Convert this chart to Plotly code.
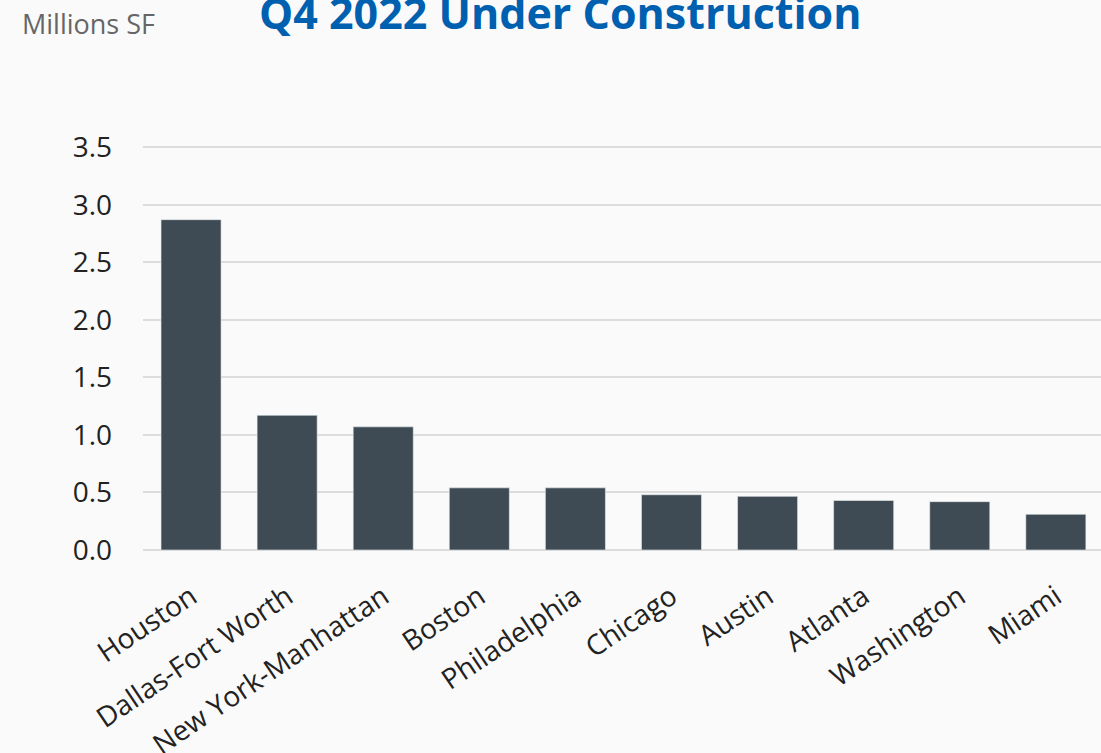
import plotly.graph_objects as go

markets = ["Houston", "Dallas-Fort Worth", "New York-Manhattan", "Boston", "Philadelphia",
           "Chicago", "Austin", "Atlanta", "Washington", "Miami"]
under_construction = [2.87, 1.17, 1.07, 0.54, 0.54, 0.48, 0.466, 0.43, 0.42, 0.31]
y_ticks = [0.0, 0.5, 1.0, 1.5, 2.0, 2.5, 3.0, 3.5]

BG = "#fafafa"
BAR = "#3e4a54"
GRID = "#dcdcdc"
FONT = "Open Sans"

fig = go.Figure(
    go.Bar(
        x=markets,
        y=under_construction,
        marker=dict(color=BAR, line=dict(color="#e8ecef", width=0.6)),
    )
)

fig.update_layout(
    width=1101,
    height=753,
    paper_bgcolor=BG,
    plot_bgcolor=BG,
    margin=dict(l=143, r=0, t=146, b=203),
    bargap=0.375,
    showlegend=False,
    font=dict(family=FONT, color="#222222"),
    xaxis=dict(
        type="category",
        range=[-0.5, 9.47],
        tickangle=-34,
        tickfont=dict(size=28, family=FONT, color="#222222"),
        showgrid=False,
        showline=False,
        ticks="",
        ticklabelstandoff=24,
        automargin=False,
    ),
    yaxis=dict(
        range=[0, 3.51],
        tickvals=y_ticks,
        ticktext=[f"{v:.1f}" for v in y_ticks],
        tickfont=dict(size=28, family=FONT, color="#222222"),
        showgrid=True,
        gridcolor=GRID,
        gridwidth=1.5,
        zeroline=True,
        zerolinecolor=GRID,
        zerolinewidth=2,
        showline=False,
        ticks="",
        ticklabelstandoff=30,
        automargin=False,
    ),
    annotations=[
        dict(
            text="Q4 2022 Under Construction",
            xref="paper", yref="paper",
            x=0.435, y=1.0,
            xanchor="center", yanchor="bottom",
            yshift=102,
            showarrow=False,
            font=dict(family=FONT, size=43, color="#0060b0", weight="bold"),
        ),
        dict(
            text="Millions SF",
            xref="paper", yref="paper",
            x=-0.128, y=1.0,
            xanchor="left", yanchor="bottom",
            yshift=102,
            showarrow=False,
            font=dict(family=FONT, size=27, color="#666666"),
        ),
    ],
)

fig.write_html("out.html")
